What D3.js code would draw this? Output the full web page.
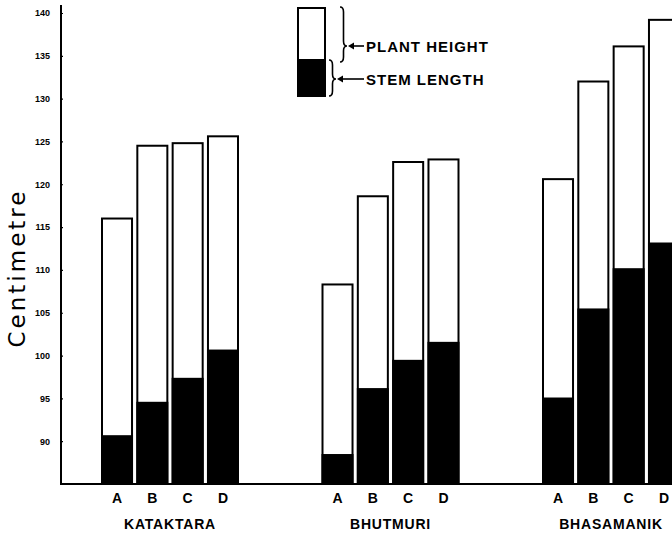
<!DOCTYPE html>
<html>
<head>
<meta charset="utf-8">
<script src="https://cdn.jsdelivr.net/npm/d3@7"></script>
<style>
  body { margin: 0; background: #fff; }
  text { font-family: "Liberation Sans", Arial, sans-serif; fill: #000; }
</style>
</head>
<body>
<div id="chart"></div>
<script>
// data (centimetres)
const groups = ["KATAKTARA", "BHUTMURI", "BHASAMANIK"];
const varieties = ["A", "B", "C", "D"];
const plantHeight = [
    [116.0, 124.5, 124.8, 125.6],
    [108.3, 118.6, 122.6, 122.9],
    [120.6, 132.0, 136.1, 139.2]
];
const stemLength = [
    [90.7, 94.6, 97.4, 100.7],
    [88.5, 96.2, 99.5, 101.6],
    [95.1, 105.5, 110.2, 113.2]
];
const yTicks = [90, 95, 100, 105, 110, 115, 120, 125, 130, 135, 140];

const width = 672, height = 537;
const axisX = 61, baseY = 484;

const svg = d3.select("#chart").append("svg")
    .attr("width", width)
    .attr("height", height)
    .style("background-color", "white");

const y = d3.scaleLinear().domain([85, 140]).range([baseY, 13]);
const x0 = d3.scalePoint().domain(groups).range([170, 611]);
const x1 = d3.scaleBand().domain(varieties).range([-68, 68]).paddingInner(0.15);

// y axis
const yAxis = svg.append("g")
    .attr("transform", "translate(" + axisX + ",0)")
    .call(d3.axisLeft(y).tickValues(yTicks).tickSize(4).tickSizeOuter(0));
yAxis.select(".domain").remove();
yAxis.selectAll(".tick line").attr("x2", 2).attr("stroke-width", 1.2);
yAxis.selectAll(".tick text")
    .attr("x", -11)
    .style("font-size", "9px")
    .style("font-weight", "bold")
    .style("font-family", "'Liberation Sans Narrow', 'Liberation Sans', sans-serif");

svg.append("line")
    .attr("x1", axisX).attr("x2", axisX)
    .attr("y1", 5).attr("y2", baseY)
    .attr("stroke", "#000").attr("stroke-width", 2);
svg.append("line")
    .attr("x1", axisX - 1).attr("x2", width)
    .attr("y1", baseY).attr("y2", baseY)
    .attr("stroke", "#000").attr("stroke-width", 2);

svg.append("text")
    .attr("transform", "translate(25," + 268 + ") rotate(-90)")
    .attr("text-anchor", "middle")
    .style("font-size", "23px")
    .style("letter-spacing", "3px")
    .style("font-family", "'DejaVu Sans', sans-serif")
    .text("Centimetre");

// bars
groups.forEach(function (g, gi) {
    const grp = svg.append("g")
        .attr("class", "group")
        .attr("transform", "translate(" + x0(g) + ",0)");

    const rows = varieties.map(function (v, vi) {
        return { v: v, plant: plantHeight[gi][vi], stem: stemLength[gi][vi] };
    });

    grp.selectAll(".plant")
        .data(rows)
        .enter()
        .append("rect")
        .attr("class", "plant")
        .attr("x", function (d) { return x1(d.v); })
        .attr("width", x1.bandwidth())
        .attr("y", function (d) { return y(d.plant); })
        .attr("height", function (d) { return baseY - y(d.plant); })
        .attr("fill", "white")
        .attr("stroke", "#000")
        .attr("stroke-width", 2);

    grp.selectAll(".stem")
        .data(rows)
        .enter()
        .append("rect")
        .attr("class", "stem")
        .attr("x", function (d) { return x1(d.v) - 1; })
        .attr("width", x1.bandwidth() + 2)
        .attr("y", function (d) { return y(d.stem); })
        .attr("height", function (d) { return baseY - y(d.stem); })
        .attr("fill", "#000");

    grp.selectAll(".vlabel")
        .data(rows)
        .enter()
        .append("text")
        .attr("class", "vlabel")
        .attr("x", function (d) { return x1(d.v) + x1.bandwidth() / 2; })
        .attr("y", 503)
        .attr("text-anchor", "middle")
        .style("font-size", "14px")
        .style("font-weight", "bold")
        .text(function (d) { return d.v; });

    grp.append("text")
        .attr("x", 0)
        .attr("y", 529)
        .attr("text-anchor", "middle")
        .style("font-size", "14px")
        .style("letter-spacing", "0.8px")
        .style("font-weight", "bold")
        .text(g);
});

// legend
const legend = svg.append("g").attr("class", "legend");
legend.append("rect")
    .attr("x", 298).attr("y", 8).attr("width", 27).attr("height", 88)
    .attr("fill", "white").attr("stroke", "#000").attr("stroke-width", 2);
legend.append("rect")
    .attr("x", 297).attr("y", 59).attr("width", 29).attr("height", 38)
    .attr("fill", "#000");

function brace(x, y0, y1, tip, w) {
    const m = x + w / 2, r = 5;
    return "M" + x + "," + y0 +
        " Q" + m + "," + y0 + " " + m + "," + (y0 + r) +
        " L" + m + "," + (tip - r) +
        " Q" + m + "," + tip + " " + (x + w) + "," + tip +
        " Q" + m + "," + tip + " " + m + "," + (tip + r) +
        " L" + m + "," + (y1 - r) +
        " Q" + m + "," + y1 + " " + x + "," + y1;
}

const legendItems = [
    { label: "PLANT HEIGHT", x: 340, y0: 7, y1: 62, tip: 46 },
    { label: "STEM LENGTH", x: 329, y0: 60, y1: 96, tip: 79 }
];
legendItems.forEach(function (d) {
    legend.append("path")
        .attr("d", brace(d.x, d.y0, d.y1, d.tip, 7))
        .attr("fill", "none").attr("stroke", "#000").attr("stroke-width", 1.6);
    legend.append("line")
        .attr("x1", d.x + 12).attr("x2", 364)
        .attr("y1", d.tip).attr("y2", d.tip)
        .attr("stroke", "#000").attr("stroke-width", 1.6);
    legend.append("path")
        .attr("d", "M" + (d.x + 8) + "," + d.tip + " l6,-3.5 l0,7 z")
        .attr("fill", "#000");
    legend.append("text")
        .attr("x", 366)
        .attr("y", d.tip + 5.5)
        .style("font-size", "15px")
        .style("letter-spacing", "1px")
        .style("font-weight", "bold")
        .text(d.label);
});
</script>
</body>
</html>
